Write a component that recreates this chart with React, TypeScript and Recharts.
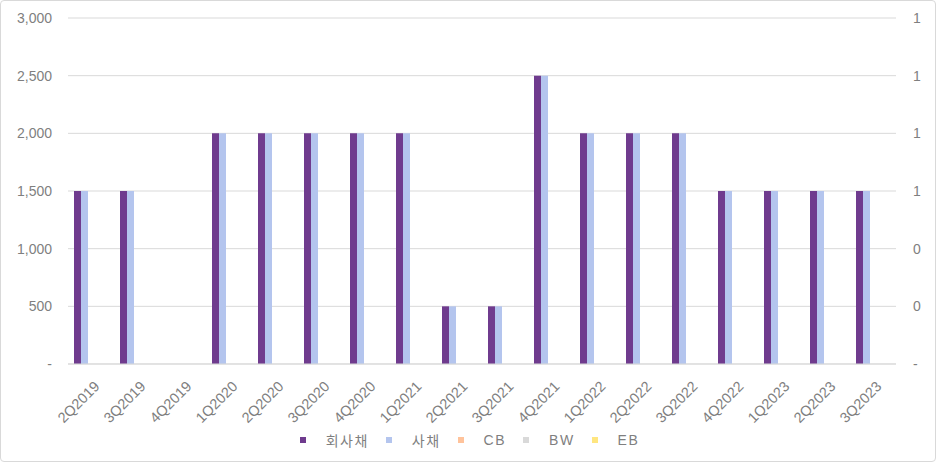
import React from "react";
import {
    BarChart,
    Bar,
    XAxis,
    YAxis,
    CartesianGrid,
    Legend,
} from "recharts";

const quarters = [
    "2Q2019", "3Q2019", "4Q2019", "1Q2020", "2Q2020", "3Q2020",
    "4Q2020", "1Q2021", "2Q2021", "3Q2021", "4Q2021", "1Q2022",
    "2Q2022", "3Q2022", "4Q2022", "1Q2023", "2Q2023", "3Q2023",
];

// 회사채 (corporate bonds)
const corpBonds = [
    1500, 1500, null, 2000, 2000, 2000, 2000, 2000, 500,
    500, 2500, 2000, 2000, 2000, 1500, 1500, 1500, 1500,
];

// 사채
const bonds = [
    1500, 1500, null, 2000, 2000, 2000, 2000, 2000, 500,
    500, 2500, 2000, 2000, 2000, 1500, 1500, 1500, 1500,
];

// CB / BW / EB: nothing issued in this period
const cb = [0, 0, 0, 0, 0, 0, 0, 0, 0, 0, 0, 0, 0, 0, 0, 0, 0, 0];
const bw = [0, 0, 0, 0, 0, 0, 0, 0, 0, 0, 0, 0, 0, 0, 0, 0, 0, 0];
const eb = [0, 0, 0, 0, 0, 0, 0, 0, 0, 0, 0, 0, 0, 0, 0, 0, 0, 0];

const leftTicks = [0, 500, 1000, 1500, 2000, 2500, 3000];
const rightTicks = [0, 0.2, 0.4, 0.6, 0.8, 1.0, 1.2];

const seriesInfo = [
    { key: "corp", name: "회사채", color: "#6f3b8e", axis: "left" },
    { key: "bond", name: "사채", color: "#b4c5ee", axis: "left" },
    { key: "cb", name: "CB", color: "#ffc39b", axis: "left" },
    { key: "bw", name: "BW", color: "#d9d9d9", axis: "left" },
    { key: "eb", name: "EB", color: "#ffe680", axis: "right" },
];

const chartData = quarters.map((q, i) => ({
    quarter: q,
    corp: corpBonds[i],
    bond: bonds[i],
    cb: cb[i],
    bw: bw[i],
    eb: eb[i],
}));

const FONT = "'Liberation Sans', 'Noto Sans CJK KR', sans-serif";
const TEXT = "#7f7f7f";

const fmtLeft = (v: number) => (v === 0 ? "-" : v.toLocaleString("en-US"));
const fmtRight = (v: number) => (v === 0 ? "-" : String(Math.round(v)));

const XTick = (props: any) => {
    const { x, y, payload } = props;
    const ty = y + 8;
    return (
        <text
            x={x + 2}
            y={ty}
            transform={`rotate(-45, ${x + 2}, ${ty})`}
            textAnchor="end"
            dominantBaseline="hanging"
            fill={TEXT}
            fontSize={14.5}
            fontFamily={FONT}
        >
            {payload.value}
        </text>
    );
};

const renderLegend = () => (
    <div
        style={{
            display: "flex",
            justifyContent: "center",
            alignItems: "center",
            fontFamily: FONT,
            fontSize: 14,
            color: TEXT,
            paddingLeft: 20,
            paddingTop: 11,
        }}
    >
        {seriesInfo.map((s) => (
            <div
                key={s.key}
                style={{ display: "flex", alignItems: "center", marginRight: 17 }}
            >
                <span
                    style={{
                        width: 6,
                        height: 6,
                        background: s.color,
                        display: "inline-block",
                        marginRight: 20,
                    }}
                />
                <span style={{ letterSpacing: 1.5 }}>{s.name}</span>
            </div>
        ))}
    </div>
);

const App: React.FC = () => {
    return (
        <div
            style={{
                position: "fixed",
                left: 0,
                top: 0,
                width: 936,
                height: 462,
                background: "#fff",
            }}
        >
            <BarChart
                width={936}
                height={462}
                data={chartData}
                margin={{ top: 18, right: 0, left: 0, bottom: 0 }}
                barGap={0}
                barSize={7}
            >
                <CartesianGrid yAxisId="left" vertical={false} stroke="#d9d9d9" />
                <XAxis
                    dataKey="quarter"
                    interval={0}
                    height={55}
                    tick={<XTick />}
                    tickLine={false}
                    axisLine={{ stroke: "#d9d9d9" }}
                />
                <YAxis
                    yAxisId="left"
                    width={68}
                    domain={[0, 3000]}
                    ticks={leftTicks}
                    tickFormatter={fmtLeft}
                    axisLine={false}
                    tickLine={false}
                    tickSize={0}
                    tickMargin={16}
                    tick={{ fill: TEXT, fontSize: 14, fontFamily: FONT }}
                />
                <YAxis
                    yAxisId="right"
                    orientation="right"
                    width={40}
                    type="number"
                    domain={[0, 1.2]}
                    allowDataOverflow
                    ticks={rightTicks}
                    tickFormatter={fmtRight}
                    axisLine={false}
                    tickLine={false}
                    tickSize={0}
                    tickMargin={17}
                    tick={{ fill: TEXT, fontSize: 14, fontFamily: FONT }}
                />
                <Legend
                    verticalAlign="bottom"
                    height={43}
                    content={renderLegend}
                />
                {seriesInfo.map((s) => (
                    <Bar
                        key={s.key}
                        yAxisId={s.axis}
                        dataKey={s.key}
                        name={s.name}
                        fill={s.color}
                        isAnimationActive={false}
                    />
                ))}
            </BarChart>
            <div
                style={{
                    position: "absolute",
                    left: 0,
                    top: 0,
                    width: 936,
                    height: 462,
                    boxSizing: "border-box",
                    border: "1px solid #d9d9d9",
                    borderRadius: 4,
                    pointerEvents: "none",
                }}
            />
        </div>
    );
};

export default App;
